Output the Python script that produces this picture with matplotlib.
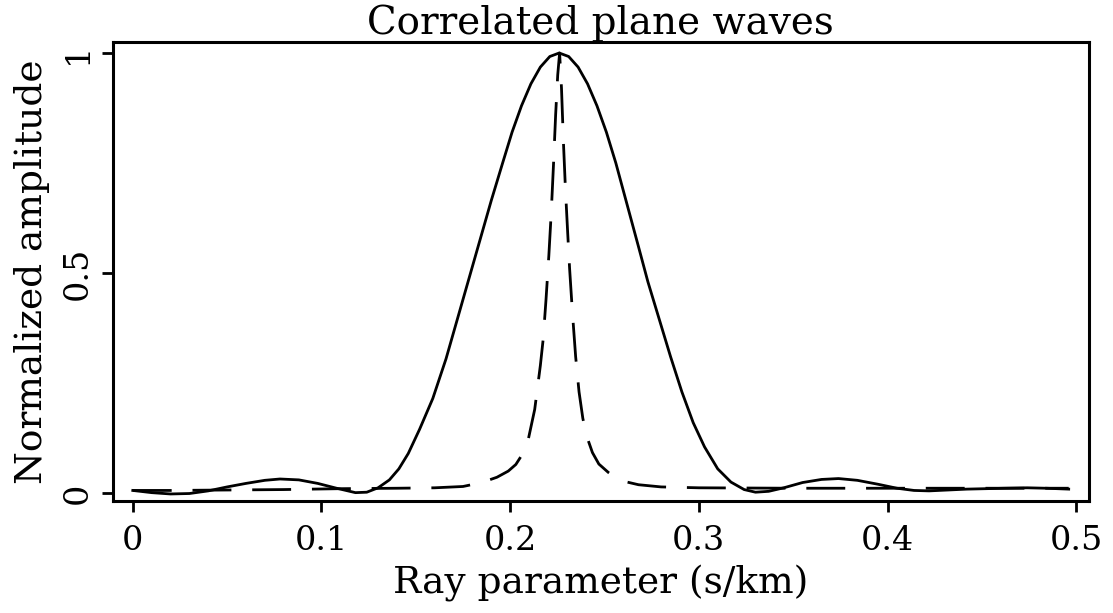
import matplotlib
matplotlib.use("Agg")
import matplotlib.pyplot as plt

# solid curve
p_solid = [0.000, 0.010, 0.020, 0.030, 0.040, 0.050, 0.060, 0.070, 0.078, 0.088,
           0.098, 0.108, 0.118, 0.124, 0.130, 0.136, 0.141, 0.146, 0.152, 0.159,
           0.166, 0.172, 0.178, 0.184, 0.190, 0.196, 0.201, 0.206, 0.211, 0.216,
           0.221, 0.226, 0.231, 0.236, 0.241, 0.246, 0.251, 0.256, 0.262, 0.268,
           0.273, 0.279, 0.285, 0.291, 0.297, 0.303, 0.310, 0.317, 0.324, 0.330,
           0.337, 0.345, 0.355, 0.365, 0.374, 0.384, 0.395, 0.405, 0.414, 0.422,
           0.432, 0.442, 0.452, 0.462, 0.474, 0.484, 0.496]
a_solid = [0.006, 0.001, -0.002, -0.001, 0.005, 0.014, 0.022, 0.029, 0.032, 0.030,
           0.022, 0.011, 0.001, 0.002, 0.012, 0.030, 0.055, 0.090, 0.145, 0.215,
           0.305, 0.395, 0.485, 0.575, 0.665, 0.750, 0.820, 0.880, 0.930, 0.968,
           0.992, 1.0, 0.992, 0.968, 0.930, 0.880, 0.820, 0.750, 0.655, 0.560,
           0.480, 0.395, 0.310, 0.230, 0.160, 0.105, 0.055, 0.025, 0.008, 0.002,
           0.004, 0.012, 0.024, 0.031, 0.033, 0.029, 0.020, 0.011, 0.006, 0.005,
           0.007, 0.009, 0.010, 0.011, 0.012, 0.011, 0.009]

# dashed curve
p_dash = [0.000, 0.020, 0.050, 0.080, 0.110, 0.140, 0.160, 0.175, 0.185, 0.193,
          0.199, 0.203, 0.206, 0.209, 0.211, 0.213, 0.2145, 0.216, 0.2175, 0.219,
          0.2205, 0.2218, 0.223, 0.2241, 0.2252, 0.2262, 0.2272, 0.2282, 0.2293, 0.2305,
          0.2315, 0.2330, 0.2347, 0.2365, 0.2385, 0.2405, 0.2436, 0.247, 0.252, 0.256,
          0.262, 0.268, 0.280, 0.300, 0.350, 0.400, 0.450, 0.496]
a_dash = [0.006, 0.006, 0.007, 0.008, 0.010, 0.011, 0.012, 0.015, 0.024, 0.036,
          0.050, 0.065, 0.085, 0.11, 0.15, 0.19, 0.24, 0.29, 0.35, 0.44,
          0.54, 0.64, 0.75, 0.86, 0.95, 1.0, 0.92, 0.80, 0.69, 0.59,
          0.51, 0.41, 0.31, 0.23, 0.17, 0.130, 0.092, 0.066, 0.047, 0.035,
          0.025, 0.019, 0.014, 0.012, 0.011, 0.011, 0.011, 0.011]

xticks = [0, 0.1, 0.2, 0.3, 0.4, 0.5]
xtick_labels = ["0", "0.1", "0.2", "0.3", "0.4", "0.5"]
yticks = [0, 0.5, 1]
ytick_labels = ["0", "0.5", "1"]

plt.rcParams["font.family"] = ["DejaVu Serif"]

fig = plt.figure(figsize=(11.13, 6.13), dpi=100)
ax = fig.add_axes([0.1015, 0.1827, 0.8765, 0.7488])

ax.plot(p_solid, a_solid, color="black", lw=2)
ax.plot(p_dash, a_dash, color="black", lw=2, dashes=(14, 7.5))

ax.set_xlim(-0.0105, 0.5065)
ax.set_ylim(-0.018, 1.025)
ax.set_xticks(xticks)
ax.set_xticklabels(xtick_labels, fontsize=24)
ax.set_yticks(yticks)
ax.set_yticklabels(ytick_labels, fontsize=24, rotation=90, va="center")
ax.tick_params(length=8, width=2, direction="out")
ax.tick_params(axis="x", pad=9)
ax.tick_params(axis="y", pad=6)
for s in ax.spines.values():
    s.set_linewidth(2.2)

ax.set_xlabel("Ray parameter (s/km)", fontsize=27, labelpad=6)
ax.set_ylabel("Normalized amplitude", fontsize=27, labelpad=8)
ax.set_title("Correlated plane waves", fontsize=28, pad=5)

fig.savefig("out.png", dpi=100)
